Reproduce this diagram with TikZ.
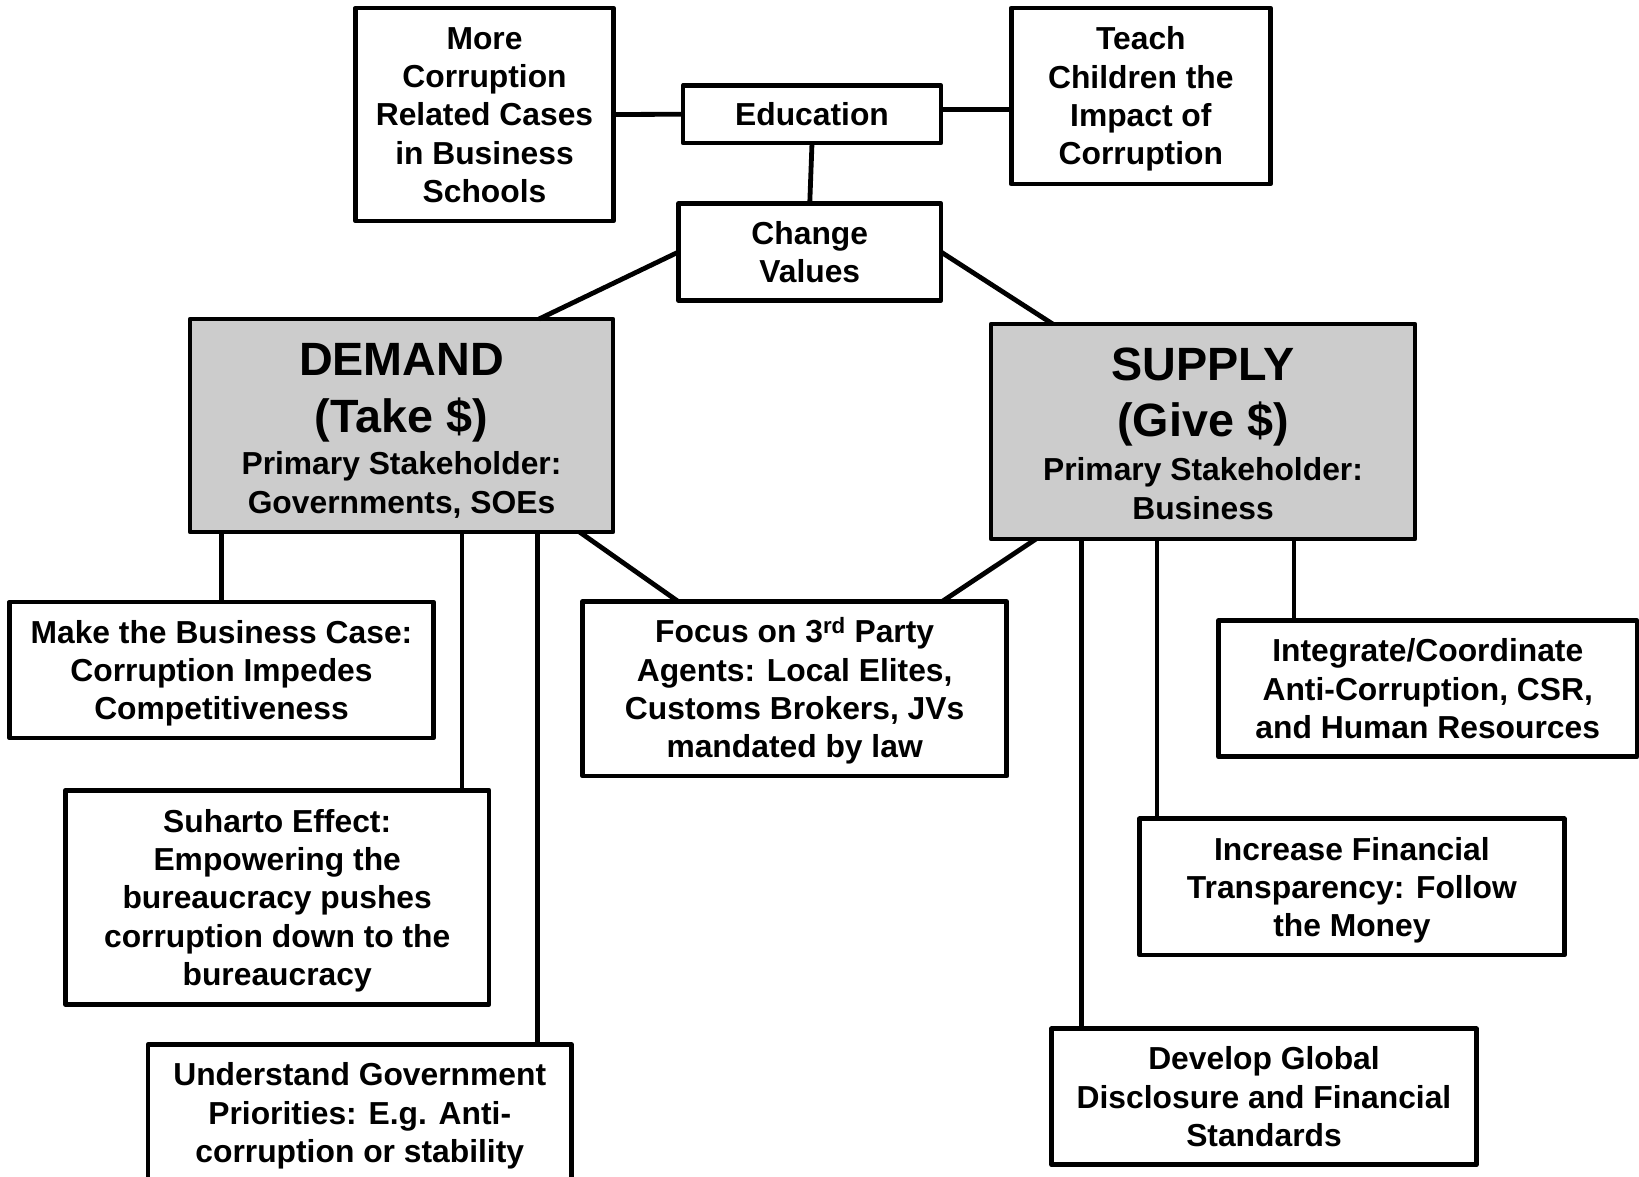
\documentclass[tikz,border=0pt]{standalone}
\usepackage{fontspec}
\setmainfont{Liberation Sans}
\usetikzlibrary{calc}
\definecolor{boxgray}{RGB}{204,204,204}
\newcommand\topstrut{\rule{0pt}{30pt}}
\begin{document}
\begin{tikzpicture}[x=1pt,y=-1pt,
  box/.style={draw=black, line width=4.8pt, fill=white, inner sep=0pt, outer sep=0pt, align=center, font=\bfseries\fontsize{31.8}{38.3}\selectfont, line join=round,
    execute at end node={\rule[-7.2pt]{0pt}{7.2pt}}},
  bigbox/.style={draw=black, line width=4.8pt, fill=boxgray, inner sep=0pt, outer sep=0pt, line join=round},
  bigtxt/.style={font=\bfseries\fontsize{46.7}{56}\selectfont, anchor=base, inner sep=0pt},
  smalltxt/.style={font=\bfseries\fontsize{31.8}{38.3}\selectfont, anchor=base, inner sep=0pt},
  link/.style={line width=4.8pt}]
\useasboundingbox (0,0) rectangle (1639,1177);

\node[box, minimum width=258pt, minimum height=213pt] (more) at (484.5,114.5) {\topstrut More\\Corruption\\Related Cases\\in Business\\Schools};
\node[box, minimum width=258pt, minimum height=57.5pt] (edu) at (812,114.25) {\topstrut Education};
\node[box, minimum width=259pt, minimum height=176pt] (teach) at (1140.85,96) {\topstrut Teach\\Children the\\Impact of\\Corruption};
\node[box, minimum width=262.5pt, minimum height=97pt] (change) at (809.75,252) {\topstrut Change\\Values};
\node[bigbox, minimum width=423pt, minimum height=213pt] (demand) at (401.5,425.5) {};
\node[bigbox, minimum width=424pt, minimum height=215pt] (supply) at (1203,431.5) {};
\node[box, minimum width=424pt, minimum height=136pt] (make) at (221.5,670) {\topstrut Make the Business Case:\\Corruption Impedes\\Competitiveness};
\node[box, minimum width=423.6pt, minimum height=214pt] (suharto) at (277.2,897.35) {\topstrut Suharto Effect:\\Empowering the\\bureaucracy pushes\\corruption down to the\\bureaucracy};
\node[box, minimum width=423.5pt, minimum height=136.5pt] (underst) at (359.75,1112.75) {\topstrut Understand Government\\Priorities: E.g. Anti-\\corruption or stability};
\node[box, minimum width=424pt, minimum height=174.4pt] (focus) at (794.65,688.8) {\topstrut Focus on 3\textsuperscript{rd} Party\\Agents: Local Elites,\\Customs Brokers, JVs\\mandated by law};
\node[box, minimum width=418.5pt, minimum height=136pt] (integ) at (1427.75,688.7) {\topstrut Integrate/Coordinate\\Anti-Corruption, CSR,\\and Human Resources};
\node[box, minimum width=424.6pt, minimum height=136.2pt] (incr) at (1351.9,886.9) {\topstrut Increase Financial\\Transparency: Follow\\the Money};
\node[box, minimum width=424.7pt, minimum height=136pt] (devel) at (1264,1096.75) {\topstrut Develop Global\\Disclosure and Financial\\Standards};

\node[bigtxt] (demandA) at ($(demand.north)+(0,56.5)$) {DEMAND};
\node[bigtxt] (demandB) at ($(demand.north)+(0,113)$) {(Take \$)};
\node[smalltxt] (demandC) at ($(demand.north)+(0,155.8)$) {Primary Stakeholder:};
\node[smalltxt] (demandD) at ($(demand.north)+(0,194.5)$) {Governments, SOEs};
\node[bigtxt] (supplyA) at ($(supply.north)+(0,56.7)$) {SUPPLY};
\node[bigtxt] (supplyB) at ($(supply.north)+(0,112.4)$) {(Give \$)};
\node[smalltxt] (supplyC) at ($(supply.north)+(0,156.8)$) {Primary Stakeholder:};
\node[smalltxt] (supplyD) at ($(supply.north)+(0,195.2)$) {Business};

\draw[link] (more.east) -- (edu.west);
\draw[link] ([yshift=5pt]edu.east) -- ([yshift=5pt]edu.east -| teach.west);
\draw[link] (edu.south) -- (change.north);
\draw[link] (change.west) -- ([xshift=137.5pt]demand.north);
\draw[link] (change.east) -- ([xshift=-150.3pt]supply.north);
\draw[link] ([xshift=178pt]demand.south) -- ([xshift=-116.3pt]focus.north);
\draw[link] ([xshift=-167pt]supply.south) -- ([xshift=147.3pt]focus.north);
\draw[link] (make.north) -- (make.north |- demand.south);
\draw[link] ([xshift=184.8pt]suharto.north) -- ([xshift=184.8pt]suharto.north |- demand.south);
\draw[link] ([xshift=178pt]underst.north) -- ([xshift=178pt]underst.north |- demand.south);
\draw[link] ([xshift=-133.75pt]integ.north) -- ([xshift=-133.75pt]integ.north |- supply.south);
\draw[link] ([xshift=-194.9pt]incr.north) -- ([xshift=-194.9pt]incr.north |- supply.south);
\draw[link] ([xshift=-182.5pt]devel.north) -- ([xshift=-182.5pt]devel.north |- supply.south);
\end{tikzpicture}
\end{document}
